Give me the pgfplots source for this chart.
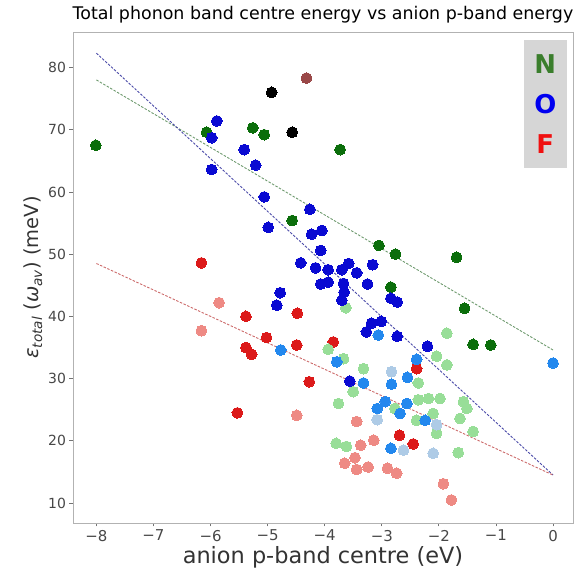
\documentclass[border=0pt]{standalone}
\usepackage{fontspec}
\setmainfont{DejaVu Sans}
\usepackage{pgfplots}
\pgfplotsset{compat=1.18}
\definecolor{cNd}{HTML}{0B6E0B}
\definecolor{cNl}{HTML}{98DE98}
\definecolor{cOd}{HTML}{0A0AD2}
\definecolor{cOm}{HTML}{2388EE}
\definecolor{cOl}{HTML}{AECBE6}
\definecolor{cFd}{HTML}{DC1A1A}
\definecolor{cFl}{HTML}{EE8A84}
\definecolor{cBr}{HTML}{9A4848}
\definecolor{cBk}{HTML}{000000}
\definecolor{lnG}{HTML}{6E9A6E}
\definecolor{lnB}{HTML}{4A4AA8}
\definecolor{lnR}{HTML}{CC6A6A}
\definecolor{legbg}{HTML}{D6D6D6}
\definecolor{legN}{HTML}{3A7E2C}
\definecolor{legO}{HTML}{0000F0}
\definecolor{legF}{HTML}{F01010}
\pgfplotsset{dot/.style={only marks, mark=*, mark size=5.4bp, color=#1, mark options={draw=#1, fill=#1, line width=0pt}}}
\begin{document}
\begin{tikzpicture}
\begin{axis}[name=ax, scale only axis, width=500bp, height=491bp,
  xmin=-8.41, xmax=0.35, ymin=6.8, ymax=85.7,
  xtick={-8,-7,-6,-5,-4,-3,-2,-1,0},
  xticklabels={−8,−7,−6,−5,−4,−3,−2,−1,0},
  ytick={10,20,30,40,50,60,70,80},
  yticklabels={10,20,30,40,50,60,70,80},
  tick align=outside, tick pos=left, major tick length=3.5bp,
  tick style={black!55, line width=0.8bp},
  axis line style={black!30, line width=0.8bp},
  ticklabel style={text=black!72},
  xticklabel style={font=\fontsize{15}{17}\selectfont},
  yticklabel style={font=\fontsize{14}{16}\selectfont},
  title={Total phonon band centre energy vs anion p-band energy},
  title style={font=\fontsize{17.5}{19}\selectfont, at={(0.5,1)}, anchor=base, yshift=7bp},
  xlabel={anion p-band centre (eV)},
  xlabel style={font=\fontsize{22.5}{25}\selectfont, text=black!80, yshift=2bp},
  ylabel={\textit{ε}\textsubscript{\textit{total}} (\textit{ω}\textsubscript{\textit{av}}) (meV)},
  ylabel style={font=\fontsize{19.5}{22}\selectfont, text=black!80, yshift=-1bp},
  clip=false]
% F group
\addplot[dot=cFl] coordinates {
(-5.85,42.2) (-6.16,37.7) (-4.49,24.1) (-3.44,23.1) (-3.14,20.1) (-3.37,19.3) (-3.47,17.3) (-3.65,16.4) (-3.44,15.4) (-3.24,15.8) (-2.90,15.6) (-2.74,14.8) (-1.92,13.1) (-1.78,10.5)};
\addplot[dot=cFd] coordinates {
(-6.16,48.6) (-5.38,40.0) (-4.48,40.5) (-5.02,36.6) (-5.38,35.0) (-5.28,33.9) (-4.49,35.4) (-4.27,29.5) (-5.53,24.5) (-3.85,35.9) (-2.39,31.6) (-2.69,20.9) (-2.45,19.5)};
% N group
\addplot[dot=cNl] coordinates {
(-3.63,41.4) (-1.86,37.3) (-3.94,34.7) (-3.67,33.2) (-3.32,31.6) (-2.04,33.6) (-1.86,32.2) (-2.36,29.3) (-3.50,27.9) (-3.76,26.0) (-2.36,26.6) (-2.18,26.8) (-1.98,26.8) (-2.77,25.2) (-2.10,24.4) (-1.57,26.3) (-1.51,25.2) (-1.63,23.6) (-1.40,21.5) (-2.04,21.2) (-1.66,18.1) (-2.39,23.3) (-3.62,19.1) (-3.80,19.6)};
\addplot[dot=cNd] coordinates {
(-8.01,67.5) (-6.07,69.6) (-5.26,70.3) (-5.06,69.2) (-4.57,55.4) (-3.73,66.8) (-3.05,51.4) (-2.76,50.0) (-1.69,49.5) (-2.84,44.7) (-1.55,41.3) (-1.40,35.5) (-1.09,35.4)};
% O group
\addplot[dot=cOl] coordinates {
(-3.08,23.4) (-2.83,31.1) (-2.62,18.5) (-2.10,18.0) (-2.04,22.6)};
\addplot[dot=cOm] coordinates {
(0,32.5) (-3.06,37.0) (-3.79,32.7) (-2.39,33.1) (-3.32,29.3) (-2.83,29.1) (-2.55,30.2) (-2.94,26.3) (-3.08,25.2) (-2.56,26.0) (-2.68,24.4) (-2.24,23.3) (-2.84,18.8) (-4.77,34.6)};
\addplot[dot=cOd] coordinates {
(-5.89,71.4) (-5.98,68.7) (-5.41,66.8) (-5.21,64.3) (-5.98,63.6) (-5.06,59.2) (-4.26,57.2) (-4.99,54.3) (-4.23,53.2) (-4.05,53.8) (-4.07,50.6) (-4.42,48.6) (-4.16,47.8) (-3.94,47.5) (-4.07,45.2) (-3.94,45.5) (-4.78,43.8) (-4.84,41.8) (-3.70,47.5) (-3.58,48.5) (-3.44,47.0) (-3.16,48.3) (-3.67,45.3) (-3.66,43.9) (-3.70,42.6) (-3.25,45.2) (-2.84,42.9) (-2.73,42.3) (-3.01,39.2) (-3.18,38.9) (-3.27,37.5) (-2.73,36.8) (-2.20,35.2) (-3.56,29.6)};
% other
\addplot[dot=cBk] coordinates {(-4.93,76.0) (-4.57,69.6)};
\addplot[dot=cBr] coordinates {(-4.32,78.3)};
% fits
\addplot[no marks, lnG, line width=0.9bp, dash pattern=on 2.5bp off 1.5bp] coordinates {(-8,78.0) (0,34.6)};
\addplot[no marks, lnB, line width=0.9bp, dash pattern=on 2.5bp off 1.5bp] coordinates {(-8,82.3) (0,14.5)};
\addplot[no marks, lnR, line width=0.9bp, dash pattern=on 2.5bp off 1.5bp] coordinates {(-8,48.5) (0,14.5)};
\node[fill=legbg, minimum width=43bp, minimum height=128bp, inner sep=0pt, anchor=north east, align=center, font=\bfseries\fontsize{26}{40.5}\selectfont] at (rel axis cs:0.988,0.984) {\textcolor{legN}{N}\\\textcolor{legO}{O}\\\textcolor{legF}{F}};
\end{axis}
\pgfresetboundingbox
\path[use as bounding box] ([shift={(-73bp,-50bp)}]ax.south west) rectangle ([shift={(6bp,32bp)}]ax.north east);
\end{tikzpicture}
\end{document}
